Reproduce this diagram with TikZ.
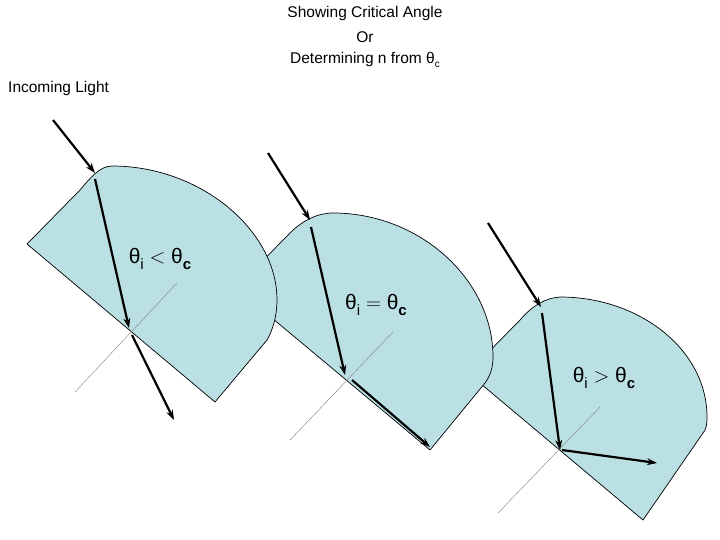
\documentclass[tikz,border=0pt]{standalone}
\usepackage{fontspec}
\setmainfont{Liberation Sans}
\usetikzlibrary{arrows.meta}
\definecolor{glass}{RGB}{186,224,228}
\begin{document}
\begin{tikzpicture}[x=1pt,y=-1pt,
  block/.style={fill=glass,draw=black,line width=0.7pt},
  ray/.style={line width=2.2pt,-{Stealth[length=10pt,width=7pt]}},
  normal/.style={draw=gray,line width=0.4pt},
  lab/.style={font=\fontsize{21}{24}\selectfont,inner sep=0pt},
  ttl/.style={font=\fontsize{15.5}{18}\selectfont,inner sep=0pt}]
\useasboundingbox (0,0) rectangle (720,540);
% shape 3
\draw[block] (468,373) -- (520,320) .. controls (532,306) and (545,298) .. (560,297)
  .. controls (640,297) and (707,350) .. (707,417) .. controls (707,425) and (706,430) .. (703,433)
  -- (643,520) -- cycle;
% shape 2
\draw[block] (236,288) -- (290,233) .. controls (302,221) and (317,213) .. (333,213)
  .. controls (420,213) and (493,280) .. (493,357) .. controls (493,368) and (490,376) .. (485,383)
  -- (430,450) -- cycle;
% shape 1
\draw[block] (27,244) -- (80,190) .. controls (90,178) and (100,166) .. (112,166)
  .. controls (200,166) and (277,230) .. (277,300) .. controls (277,315) and (273,330) .. (267,340)
  -- (215,402) -- cycle;
% normals
\coordinate (n1a) at (177,283); \coordinate (n1b) at (75,392);
\coordinate (n2a) at (393,332); \coordinate (n2b) at (290,440);
\coordinate (n3a) at (600,407); \coordinate (n3b) at (498,513);
\draw[normal] (n1a) -- (n1b);
\draw[normal] (n2a) -- (n2b);
\draw[normal] (n3a) -- (n3b);
% rays 1
\coordinate (a1) at (53,120); \coordinate (a2) at (95,173);
\coordinate (a3) at (95,179); \coordinate (a4) at (129,328);
\coordinate (a5) at (132,335); \coordinate (a6) at (174,420);
\draw[ray] (a1) -- (a2);
\draw[ray] (a3) -- (a4);
\draw[ray] (a5) -- (a6);
% rays 2
\coordinate (b1) at (268,153); \coordinate (b2) at (310,220);
\coordinate (b3) at (311,227); \coordinate (b4) at (345,375);
\coordinate (b5) at (352,380); \coordinate (b6) at (430,447);
\draw[ray] (b1) -- (b2);
\draw[ray] (b3) -- (b4);
\draw[ray] (b5) -- (b6);
% rays 3
\coordinate (c1) at (488,223); \coordinate (c2) at (541,307);
\coordinate (c3) at (542,313); \coordinate (c4) at (560,450);
\coordinate (c5) at (562,450); \coordinate (c6) at (657,463);
\draw[ray] (c1) -- (c2);
\draw[ray] (c3) -- (c4);
\draw[ray] (c5) -- (c6);
% labels
\node[lab] (l1) at (160,259) {θ\raisebox{-0.3em}{\fontsize{15}{15}\selectfont i} $<$ θ\raisebox{-0.3em}{\fontsize{15}{15}\selectfont\bfseries c}};
\node[lab] (l2) at (376,305) {θ\raisebox{-0.3em}{\fontsize{15}{15}\selectfont i} $=$ θ\raisebox{-0.3em}{\fontsize{15}{15}\selectfont\bfseries c}};
\node[lab] (l3) at (604,378) {θ\raisebox{-0.3em}{\fontsize{15}{15}\selectfont i} $>$ θ\raisebox{-0.3em}{\fontsize{15}{15}\selectfont\bfseries c}};
\node[ttl] (t1) at (365,13) {Showing Critical Angle};
\node[ttl] (t2) at (365,37) {Or};
\node[ttl] (t3) at (365,60) {Determining n from θ\raisebox{-0.25em}{\fontsize{10}{10}\selectfont c}};
\node[ttl,anchor=west] (t4) at (8,88) {Incoming Light};
\end{tikzpicture}
\end{document}
